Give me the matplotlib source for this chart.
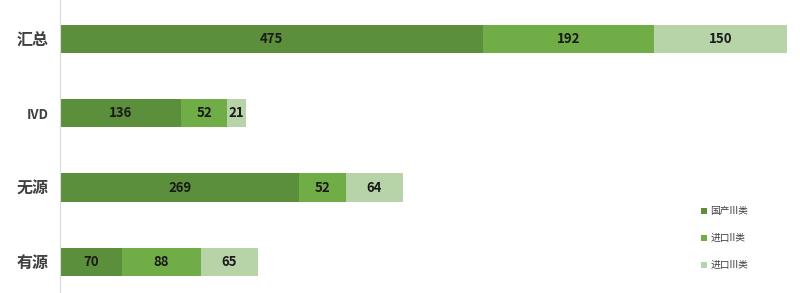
import matplotlib
matplotlib.use("Agg")
import matplotlib.pyplot as plt
import numpy as np

plt.rcParams['font.family'] = ['Noto Sans CJK SC', 'DejaVu Sans']

categories = ['有源', '无源', 'IVD', '汇总']
series_names = ['国产III类', '进口II类', '进口III类']
domestic3 = [70, 269, 136, 475]
import2 = [88, 52, 52, 192]
import3 = [65, 64, 21, 150]
colors = ['#5b8f3b', '#70ad47', '#b7d3a8']

fig = plt.figure(figsize=(8.0, 2.93), dpi=100)
ax = fig.add_axes([60/800, 0, 740/800, 1])

y = np.arange(len(categories))
left = np.zeros(len(categories))
for vals, name, c in zip([domestic3, import2, import3], series_names, colors):
    vals = np.array(vals)
    bars = ax.barh(y, vals, left=left, height=0.38, color=c, label=name)
    for b, v in zip(bars, vals):
        ax.text(b.get_x() + b.get_width()/2, b.get_y() + b.get_height()/2, str(v),
                ha='center', va='center', fontsize=9.5, fontweight='bold', color='#1a1a1a')
    left += vals

ax.set_xlim(0, 740/0.89)
ax.set_ylim(-0.42, 3.525)
ax.set_yticks(y)
ax.set_yticklabels(categories, fontsize=11.5, color='#404040')
for lbl in ax.get_yticklabels():
    if lbl.get_text() == 'IVD':
        lbl.set_fontsize(9.5)
    lbl.set_fontweight('bold')
ax.tick_params(axis='y', length=0, pad=8)
ax.set_xticks([])
for s in ['top', 'right', 'bottom']:
    ax.spines[s].set_visible(False)
ax.spines['left'].set_color('#d9d9d9')

leg = ax.legend(loc='upper left', bbox_to_anchor=(637/740, 0.31), frameon=False,
                fontsize=7, handlelength=0.6, handleheight=0.6, labelspacing=1.75,
                handletextpad=0.4, borderaxespad=0)
for t in leg.get_texts():
    t.set_color('#404040')

fig.savefig('out.png', dpi=100)
